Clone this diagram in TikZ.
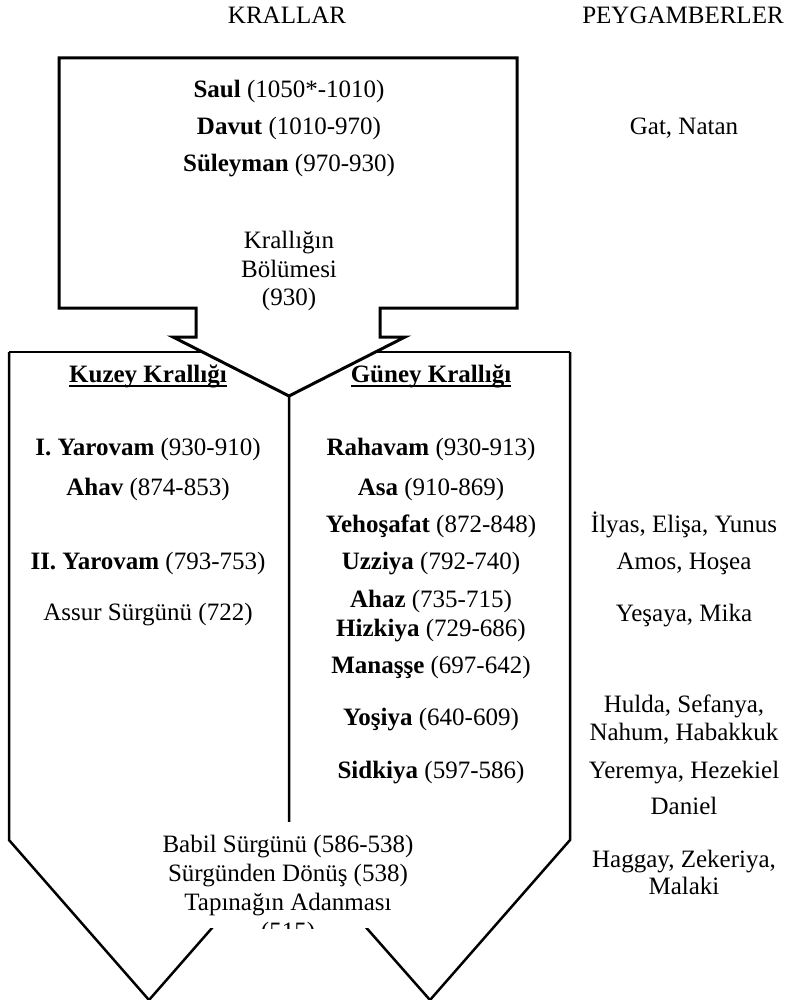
\documentclass[tikz,border=0pt]{standalone}
\usepackage{fontspec}
\setmainfont{Liberation Serif}
\begin{document}
\begin{tikzpicture}[x=1pt,y=-1pt,
  txt/.style={inner sep=0pt, anchor=base, font=\fontsize{25}{30}\selectfont},
  heavy/.style={line width=3pt, line join=miter},
  outl/.style={line width=2.5pt, line join=miter},
  uline/.style={line width=1.6pt}]
\useasboundingbox (0,0) rectangle (789,1000);
% lower split shape
\draw[outl] (9,352) -- (570,352);
\draw[outl] (9,352) -- (9,840) -- (149,1000) -- (289,840) -- (289,397);
\draw[outl] (570,352) -- (570,840) -- (430,1000) -- (289,840);
% upper box with arrow
\filldraw[heavy, fill=white] (196,337) -- (196,308) -- (59,308) -- (59,58) -- (517,58)
  -- (517,308) -- (380,308) -- (380,337) -- (405,337) -- (289,396) -- (173,337) -- cycle;
% headers
\node[txt] (krallar) at (287,24) {KRALLAR};
\node[txt] (peyg) at (683,24) {PEYGAMBERLER};
% united kingdom
\node[txt] (saul) at (289,98) {\textbf{Saul} (1050*-1010)};
\node[txt] (davut) at (289,135) {\textbf{Davut} (1010-970)};
\node[txt] (suleyman) at (289,172) {\textbf{Süleyman} (970-930)};
\node[txt] (gat) at (684,135) {Gat, Natan};
\node[txt] (bol1) at (289,248) {Krallığın};
\node[txt] (bol2) at (289,277) {Bölümesi};
\node[txt] (bol3) at (289,305) {(930)};
% headings
\node[txt] (kuzey) at (148,382) {\textbf{Kuzey Krallığı}};
\node[txt] (guney) at (431,382) {\textbf{Güney Krallığı}};
\draw[uline] ([yshift=-4pt]kuzey.base west) -- ([yshift=-4pt]kuzey.base east);
\draw[uline] ([yshift=-4pt]guney.base west) -- ([yshift=-4pt]guney.base east);
% north
\node[txt] (n1) at (148,455) {\textbf{I. Yarovam} (930-910)};
\node[txt] (n2) at (148,495) {\textbf{Ahav} (874-853)};
\node[txt] (n3) at (148,569) {\textbf{II. Yarovam} (793-753)};
\node[txt] (n4) at (148,620) {Assur Sürgünü (722)};
% south
\node[txt] (s1) at (431,455) {\textbf{Rahavam} (930-913)};
\node[txt] (s2) at (431,495) {\textbf{Asa} (910-869)};
\node[txt] (s3) at (431,532) {\textbf{Yehoşafat} (872-848)};
\node[txt] (s4) at (431,569) {\textbf{Uzziya} (792-740)};
\node[txt] (s5) at (431,607) {\textbf{Ahaz} (735-715)};
\node[txt] (s6) at (431,636) {\textbf{Hizkiya} (729-686)};
\node[txt] (s7) at (431,673) {\textbf{Manaşşe} (697-642)};
\node[txt] (s8) at (431,725) {\textbf{Yoşiya} (640-609)};
\node[txt] (s9) at (431,778) {\textbf{Sidkiya} (597-586)};
% prophets
\node[txt] (p1) at (684,532) {İlyas, Elişa, Yunus};
\node[txt] (p2) at (684,569) {Amos, Hoşea};
\node[txt] (p3) at (684,621) {Yeşaya, Mika};
\node[txt] (p4) at (684,712) {Hulda, Sefanya,};
\node[txt] (p5) at (684,740) {Nahum, Habakkuk};
\node[txt] (p6) at (684,778) {Yeremya, Hezekiel};
\node[txt] (p7) at (684,814) {Daniel};
\node[txt] (p8) at (684,867) {Haggay, Zekeriya,};
\node[txt] (p9) at (684,894) {Malaki};
% exile text box (clipped)
\begin{scope}
\clip (150,822) rectangle (430,928);
\fill[white] (150,822) rectangle (430,928);
\node[txt] (e1) at (288,852) {Babil Sürgünü (586-538)};
\node[txt] (e2) at (288,881) {Sürgünden Dönüş (538)};
\node[txt] (e3) at (288,910) {Tapınağın Adanması};
\node[txt] (e4) at (288,939) {(515)};
\end{scope}
\end{tikzpicture}
\end{document}
